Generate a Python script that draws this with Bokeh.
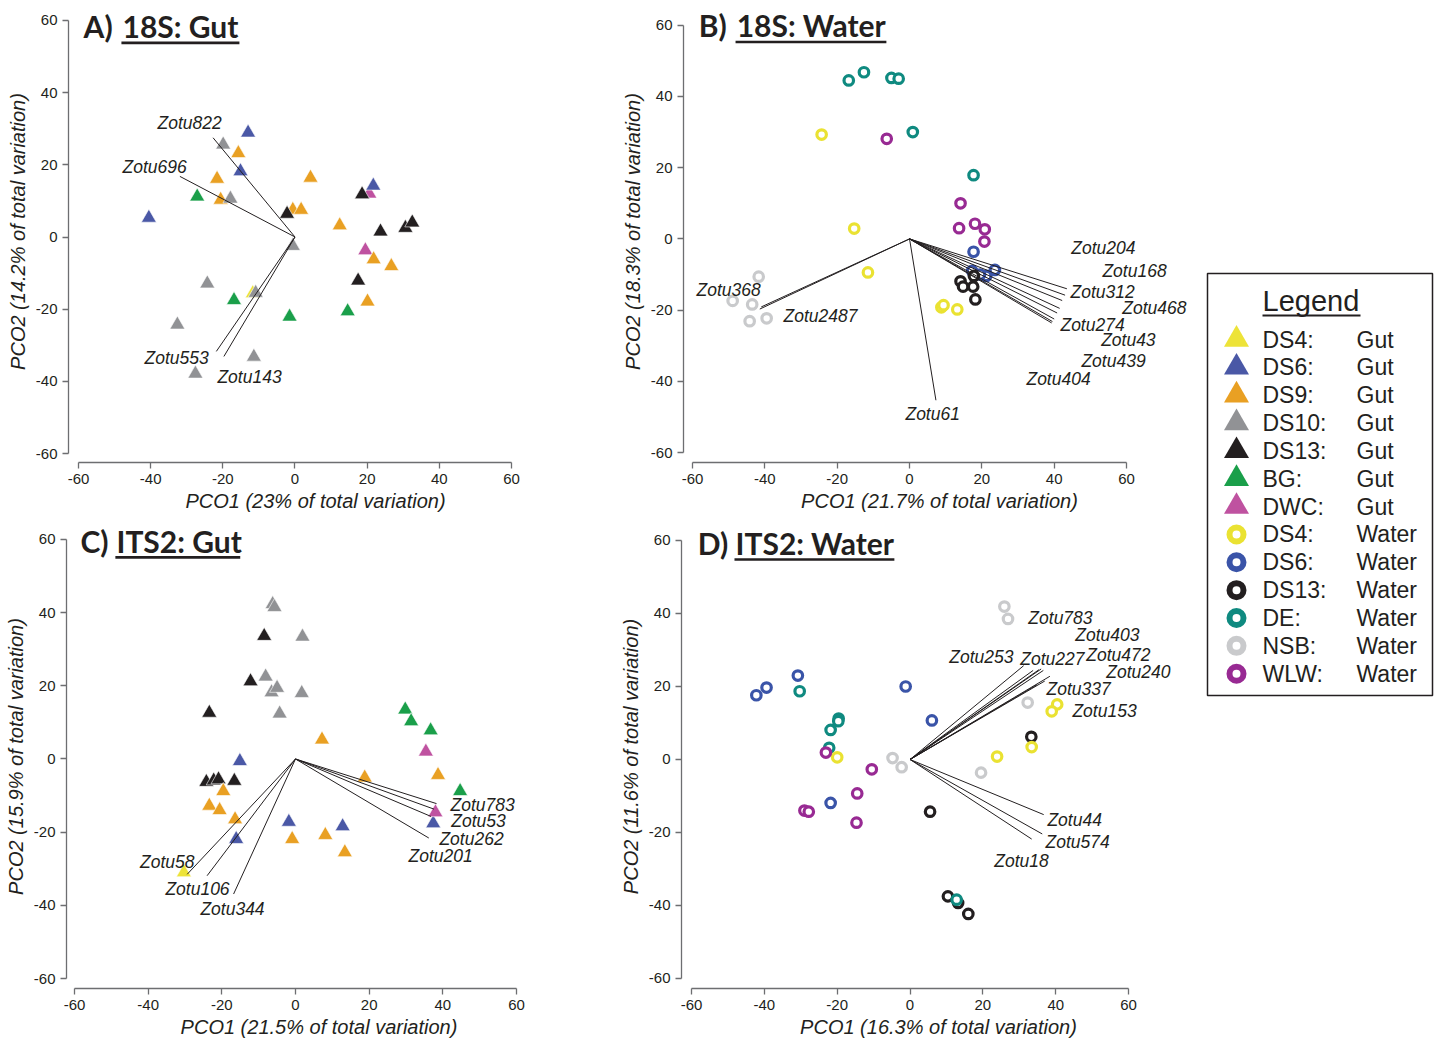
from bokeh.plotting import figure
from bokeh.layouts import row, column
from bokeh.models import Range1d, FixedTicker, ColumnDataSource, LabelSet, Label
from bokeh.embed import file_html
from bokeh.resources import INLINE
from bokeh.core.properties import value

TICKS = [-60, -40, -20, 0, 20, 40, 60]
TICK_LABELS = {t: str(t) for t in TICKS}

# ---------------- legend / groups ----------------
gut_groups = ["DS4", "DS6", "DS9", "DS10", "DS13", "BG", "DWC"]
gut_colors = ["#EDE338", "#4A58A6", "#E9A023", "#919295", "#231F20", "#1A9F4A", "#BF52A0"]
water_groups = ["DS4", "DS6", "DS13", "DE", "NSB", "WLW"]
water_colors = ["#EAE232", "#3A54A8", "#231F20", "#0F8A80", "#C9CACC", "#982A93"]

# ---------------- A) 18S: Gut ----------------
a_group = (["DS4"] + ["DWC"] * 2 + ["DS6"] * 4 + ["DS9"] * 10 + ["DS13"] * 6 + ["DS10"] * 8 + ["BG"] * 4)
a_pco1 = [-11.7,
          20.6, 19.5,
          -13.0, -15.1, -40.5, 21.7,
          -15.7, -21.6, 4.3, -20.6, -0.6, 1.7, 12.4, 21.8, 26.7, 20.1,
          -2.2, 18.6, 23.7, 30.6, 32.5, 17.5,
          -19.9, -17.9, -0.6, -24.3, -10.9, -32.6, -11.4, -27.6,
          -27.1, -16.9, -1.5, 14.6]
a_pco2 = [-15.6,
          12.0, -3.7,
          28.9, 18.2, 5.3, 14.2,
          23.2, 16.1, 16.4, 10.3, 7.5, 7.5, 3.2, -6.2, -8.1, -17.9,
          6.4, 11.8, 1.5, 2.5, 4.0, -12.1,
          25.6, 10.6, -2.5, -12.9, -15.5, -24.3, -33.2, -37.9,
          11.2, -17.5, -22.1, -20.6]
a_vec_names = ["Zotu822", "Zotu696", "Zotu553", "Zotu143"]
a_vec_x = [-22.7, -31.9, -21.8, -19.7]
a_vec_y = [27.5, 16.8, -31.7, -33.1]
a_lab_x = [-29.2, -38.9, -32.8, -12.6]
a_lab_y = [31.7, 19.3, -33.6, -38.9]

# ---------------- B) 18S: Water ----------------
b_group = (["DE"] * 6 + ["DS4"] * 6 + ["WLW"] * 6 + ["DS6"] * 5 + ["DS13"] * 5 + ["NSB"] * 5)
b_pco1 = [-16.8, -12.6, -5.0, -3.0, 0.9, 17.7,
          -24.3, -15.3, -11.5, 8.8, 9.4, 13.2,
          -6.3, 14.1, 13.7, 18.1, 20.8, 20.7,
          17.7, 17.3, 23.6, 21.2, 19.5,
          14.1, 14.8, 17.8, 17.6, 18.2,
          -41.7, -48.9, -43.5, -44.2, -39.5]
b_pco2 = [44.5, 46.8, 45.2, 45.0, 30.0, 17.9,
          29.3, 2.9, -9.4, -19.2, -18.6, -19.8,
          28.1, 10.0, 3.0, 4.25, 2.7, -0.75,
          -3.6, -9.0, -8.7, -10.4, -10.0,
          -11.9, -13.4, -10.4, -13.4, -17.0,
          -10.6, -17.4, -18.4, -23.1, -22.3]
b_vec_names = ["Zotu368", "Zotu2487", "Zotu61", "Zotu204", "Zotu168", "Zotu312",
               "Zotu468", "Zotu274", "Zotu43", "Zotu439", "Zotu404"]
b_vec_x = [-41.4, -41.0, 7.3, 43.5, 43.0, 42.2, 41.5, 40.8, 40.0, 39.5, 39.3]
b_vec_y = [-19.7, -19.1, -45.3, -14.0, -15.8, -17.3, -19.5, -20.8, -22.5, -23.2, -23.6]
b_lab_x = [-50.0, -24.6, 6.4, 53.6, 62.2, 53.4, 67.7, 50.6, 60.5, 56.4, 41.2]
b_lab_y = [-14.4, -21.7, -49.2, -2.5, -8.9, -15.0, -19.4, -24.2, -28.3, -34.2, -39.4]

# ---------------- C) ITS2: Gut ----------------
c_group = (["DS10"] * 8 + ["DS13"] * 7 + ["DS9"] * 10 + ["DS6"] * 5 + ["DS4"] + ["BG"] * 4 + ["DWC"] * 2)
c_pco1 = [-6.2, -5.7, 1.9, -8.1, -6.5, -5.0, 1.7, -4.3,
          -8.5, -12.2, -23.4, -24.2, -22.2, -20.9, -16.6,
          7.2, -19.6, -23.4, -20.6, -16.4, -0.9, 8.1, 13.4, 18.8, 38.7,
          -15.1, -16.1, -1.8, 12.8, 37.4,
          -30.3,
          29.8, 31.4, 36.7, 44.7,
          35.4, 38.0]
c_pco2 = [42.3, 41.5, 33.4, 22.5, 18.2, 19.4, 18.0, 12.4,
          33.6, 21.2, 12.6, -6.3, -5.9, -5.6, -6.0,
          5.3, -8.8, -12.8, -14.0, -16.5, -21.9, -20.8, -25.5, -5.1, -4.4,
          -0.6, -21.9, -17.2, -18.4, -17.6,
          -31.0,
          13.5, 10.3, 7.8, -8.8,
          2.0, -14.6]
c_vec_names = ["Zotu58", "Zotu106", "Zotu344", "Zotu783", "Zotu53", "Zotu262", "Zotu201"]
c_vec_x = [-29.4, -24.0, -16.8, 38.3, 37.6, 36.8, 36.2]
c_vec_y = [-31.5, -31.9, -36.9, -12.2, -13.7, -15.7, -21.6]
c_lab_x = [-34.8, -26.6, -17.1, 50.8, 49.7, 47.8, 39.4]
c_lab_y = [-28.2, -35.5, -40.9, -12.7, -17.0, -21.9, -26.5]

# ---------------- D) ITS2: Water ----------------
d_group = (["NSB"] * 6 + ["DS6"] * 6 + ["DS13"] * 5 + ["DE"] * 6 + ["DS4"] * 5 + ["WLW"] * 6)
d_pco1 = [25.9, 26.9, -4.8, -2.3, 32.3, 19.5,
          -30.8, -39.4, -42.2, -1.2, 6.0, -21.8,
          5.5, 33.3, 10.4, 13.2, 16.0,
          -30.3, -19.6, -19.7, -21.8, -22.2, 12.8,
          -20.0, 40.4, 38.9, 33.4, 23.9,
          -23.1, -10.5, -14.5, -29.0, -27.8, -14.7]
d_pco2 = [41.9, 38.5, 0.4, -2.1, 15.6, -3.6,
          23.0, 19.7, 17.6, 20.0, 10.7, -11.9,
          -14.3, 6.2, -37.5, -39.3, -42.3,
          18.7, 11.2, 10.5, 8.1, 3.2, -38.4,
          0.6, 15.1, 13.2, 3.4, 0.8,
          1.9, -2.7, -9.3, -14.0, -14.3, -17.3]
d_vec_names = ["Zotu783", "Zotu403", "Zotu253", "Zotu227", "Zotu472", "Zotu240",
               "Zotu337", "Zotu153", "Zotu44", "Zotu574", "Zotu18"]
d_vec_x = [36.0, 36.6, 31.2, 33.8, 35.4, 38.4, 34.9, 37.0, 36.7, 36.3, 33.4]
d_vec_y = [24.8, 24.4, 25.7, 24.4, 24.6, 22.8, 20.5, 21.5, -15.1, -20.4, -21.8]
d_lab_x = [41.3, 54.2, 19.6, 39.1, 57.2, 62.7, 46.3, 53.4, 45.2, 46.0, 30.6]
d_lab_y = [38.9, 34.2, 28.2, 27.4, 28.5, 24.1, 19.2, 13.2, -16.7, -22.5, -27.9]

TXT = "#231F20"
AXC = "#6D6E71"
FONT = "Liberation Sans"


def make_panel(width, height, xr, yr, borders, xlabel, ylabel):
    p = figure(width=width, height=height, x_range=Range1d(*xr), y_range=Range1d(*yr),
               output_backend="svg", toolbar_location=None,
               min_border_left=borders[0], min_border_right=borders[1],
               min_border_top=borders[2], min_border_bottom=borders[3])
    p.outline_line_color = None
    p.grid.visible = False
    for ax in (p.xaxis[0], p.yaxis[0]):
        ax.bounds = (-60, 60)
        ax.ticker = FixedTicker(ticks=TICKS)
        ax.major_label_overrides = TICK_LABELS
        ax.minor_tick_line_color = None
        ax.major_tick_in = 0
        ax.major_tick_out = 6
        ax.axis_line_color = AXC
        ax.major_tick_line_color = AXC
        ax.axis_line_width = 1.3
        ax.major_tick_line_width = 1.3
        ax.major_label_text_font = FONT
        ax.major_label_text_font_size = "15px"
        ax.major_label_text_color = TXT
        ax.axis_label_text_font = FONT
        ax.axis_label_text_font_style = "italic"
        ax.axis_label_text_font_size = "20px"
        ax.axis_label_text_color = TXT
    p.xaxis.major_label_standoff = 5
    p.xaxis.axis_label_standoff = 3
    p.yaxis.major_label_standoff = 5
    p.yaxis.axis_label_standoff = 4
    p.xaxis.axis_label = xlabel
    p.yaxis.axis_label = ylabel
    return p


def add_title(p, letter, text, x_letter, x_text, y, ul_x0, ul_x1, ul_y):
    for x, t in ((x_letter, letter), (x_text, text)):
        p.add_layout(Label(x=x, y=y, text=t, text_font="Lato", text_font_style="bold",
                           text_font_size="30px", text_baseline="middle", text_color=TXT))
    p.segment(x0=[ul_x0], y0=[ul_y], x1=[ul_x1], y1=[ul_y], line_color=TXT, line_width=2.6)


def add_points(p, groups, xs, ys, kind):
    if kind == "gut":
        cmap = dict(zip(gut_groups, gut_colors))
        src = ColumnDataSource(dict(x=xs, y=ys, c=[cmap[g] for g in groups]))
        p.scatter("x", "y", source=src, marker="triangle", size=15, fill_color="c",
                  line_color="white", line_width=0.6)
    else:
        cmap = dict(zip(water_groups, water_colors))
        src = ColumnDataSource(dict(x=xs, y=ys, c=[cmap[g] for g in groups]))
        p.scatter("x", "y", source=src, marker="circle", size=9.5, fill_color="white",
                  line_color="c", line_width=3.2)


def add_vectors(p, names, vx, vy, lx, ly):
    n = len(names)
    p.segment(x0=[0] * n, y0=[0] * n, x1=vx, y1=vy, line_color=TXT, line_width=1)
    src = ColumnDataSource(dict(x=lx, y=ly, t=names))
    p.add_layout(LabelSet(x="x", y="y", text="t", source=src, text_font=value(FONT),
                          text_font_style="italic", text_font_size="17.5px",
                          text_align="center", text_baseline="middle", text_color=TXT))


pA = make_panel(580, 524, (-62.77, 74.14), (-62.49, 65.54), (68, 18, 0, 62),
                "PCO1 (23% of total variation)", "PCO2 (14.2% of total variation)")
add_points(pA, a_group, a_pco1, a_pco2, "gut")
add_vectors(pA, a_vec_names, a_vec_x, a_vec_y, a_lab_x, a_lab_y)
add_title(pA, "A)", "18S: Gut", -58.6, -47.8, 58.6, -48.1, -15.4, 53.8)

pB = make_panel(620, 524, (-62.49, 79.06), (-62.78, 66.94), (103, 5, 0, 57),
                "PCO1 (21.7% of total variation)", "PCO2 (18.3% of total variation)")
add_points(pB, b_group, b_pco1, b_pco2, "water")
add_vectors(pB, b_vec_names, b_vec_x, b_vec_y, b_lab_x, b_lab_y)
add_title(pB, "B)", "18S: Water", -58.3, -47.8, 60.0, -48.1, -6.4, 55.3)

pC = make_panel(580, 518, (-62.17, 74.94), (-62.72, 64.08), (66, 9, 0, 52),
                "PCO1 (21.5% of total variation)", "PCO2 (15.9% of total variation)")
add_points(pC, c_group, c_pco1, c_pco2, "gut")
add_vectors(pC, c_vec_names, c_vec_x, c_vec_y, c_lab_x, c_lab_y)
add_title(pC, "C)", "ITS2: Gut", -58.4, -48.6, 59.5, -48.9, -15.0, 55.1)

pD = make_panel(620, 518, (-62.75, 78.38), (-62.74, 64.38), (101, 5, 0, 54),
                "PCO1 (16.3% of total variation)", "PCO2 (11.6% of total variation)")
add_points(pD, d_group, d_pco1, d_pco2, "water")
add_vectors(pD, d_vec_names, d_vec_x, d_vec_y, d_lab_x, d_lab_y)
add_title(pD, "D)", "ITS2: Water", -58.3, -47.9, 59.2, -48.2, -4.3, 54.8)

# ---------------- legend panel ----------------
LW, LH = 234, 1042
pL = figure(width=LW, height=LH, x_range=Range1d(0, LW), y_range=Range1d(LH, 0),
            output_backend="svg", toolbar_location=None, x_axis_type=None, y_axis_type=None,
            min_border=0)
pL.outline_line_color = None
pL.grid.visible = False
pL.quad(left=[7], right=[232], top=[273], bottom=[695], fill_color=None,
        line_color=TXT, line_width=1.5)
pL.text(x=[62], y=[300], text=["Legend"], text_font=value(FONT), text_font_size="29px",
        text_baseline="middle", text_color=TXT)
pL.segment(x0=[62], y0=[315], x1=[160], y1=[315], line_color=TXT, line_width=2)

n_g, n_w = len(gut_groups), len(water_groups)
row_y = [339 + 27.85 * i for i in range(n_g + n_w)]
pL.scatter(x=[36] * n_g, y=row_y[:n_g], marker="triangle", size=25, fill_color=gut_colors,
           line_color=None)
pL.scatter(x=[36] * n_w, y=row_y[n_g:], marker="circle", size=14, fill_color="white",
           line_color=water_colors, line_width=6)
pL.text(x=[62] * (n_g + n_w), y=row_y, text=[g + ":" for g in gut_groups + water_groups],
        text_font=value(FONT), text_font_size="23px", text_baseline="middle", text_color=TXT)
pL.text(x=[156] * (n_g + n_w), y=row_y, text=["Gut"] * n_g + ["Water"] * n_w,
        text_font=value(FONT), text_font_size="23px", text_baseline="middle", text_color=TXT)

layout = row(column(row(pA, pB), row(pC, pD)), pL)

open("out.html", "w").write(file_html(layout, INLINE))
